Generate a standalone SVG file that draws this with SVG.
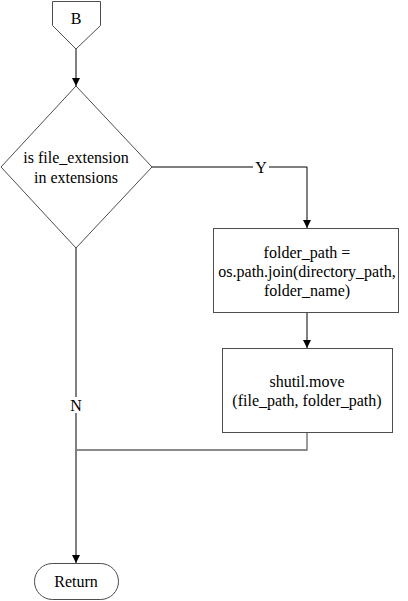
<svg xmlns="http://www.w3.org/2000/svg" width="408" height="601" viewBox="0 0 408 601">
<style>
.shape{fill:#fff;stroke:#4d4d4d;stroke-width:1}
.edge{fill:none;stroke:#000;stroke-width:1}
.edge2{fill:none;stroke:#666;stroke-width:1.3}
.lbl{fill:#fff;stroke:none}
</style>
<defs>
<marker id="arr" markerWidth="10" markerHeight="10" refX="9" refY="5" orient="auto" markerUnits="userSpaceOnUse">
<path d="M1,1 L9,5 L1,9 Z" fill="#000"/>
</marker>
</defs>
<rect width="408" height="601" fill="#fff"/>
<g font-family="Liberation Serif, Times New Roman, serif" font-size="16" fill="#000" text-anchor="middle" dominant-baseline="central">
<g id="connectors">
<path class="edge" d="M76,49 L76,86" marker-end="url(#arr)"/>
<path class="edge" d="M152,167 L307,167 L307,228" marker-end="url(#arr)"/>
<path class="edge" d="M307,312 L307,348" marker-end="url(#arr)"/>
<path class="edge2" d="M307,432 L307,450 L77,450"/>
<path class="edge" d="M76,248 L76,563" marker-end="url(#arr)"/>
<rect class="lbl" x="253" y="159" width="16" height="16"/>
<text x="261" y="167">Y</text>
<rect class="lbl" x="68" y="397" width="16" height="16"/>
<text x="76" y="405">N</text>
</g>
<g id="nodeB">
<path class="shape" d="M52.5,1.5 L100.5,1.5 L100.5,25.5 L76,49 L52.5,25.5 Z"/>
<text x="76" y="18">B</text>
</g>
<g id="decision">
<path class="shape" d="M76,86 L152,167 L76,248 L1,167 Z"/>
<text x="76" y="157">is file_extension</text>
<text x="76" y="177">in extensions</text>
</g>
<g id="folderPath">
<rect class="shape" x="213.5" y="228.5" width="185" height="84"/>
<text x="307" y="252">folder_path =</text>
<text x="307" y="271">os.path.join(directory_path,</text>
<text x="307" y="290">folder_name)</text>
</g>
<g id="move">
<rect class="shape" x="222.5" y="348.5" width="170" height="84"/>
<text x="307" y="381">shutil.move</text>
<text x="307" y="400">(file_path, folder_path)</text>
</g>
<g id="return">
<rect class="shape" x="34.5" y="563.5" width="84" height="36" rx="18" ry="18"/>
<text x="76" y="581">Return</text>
</g>
</g>
</svg>
